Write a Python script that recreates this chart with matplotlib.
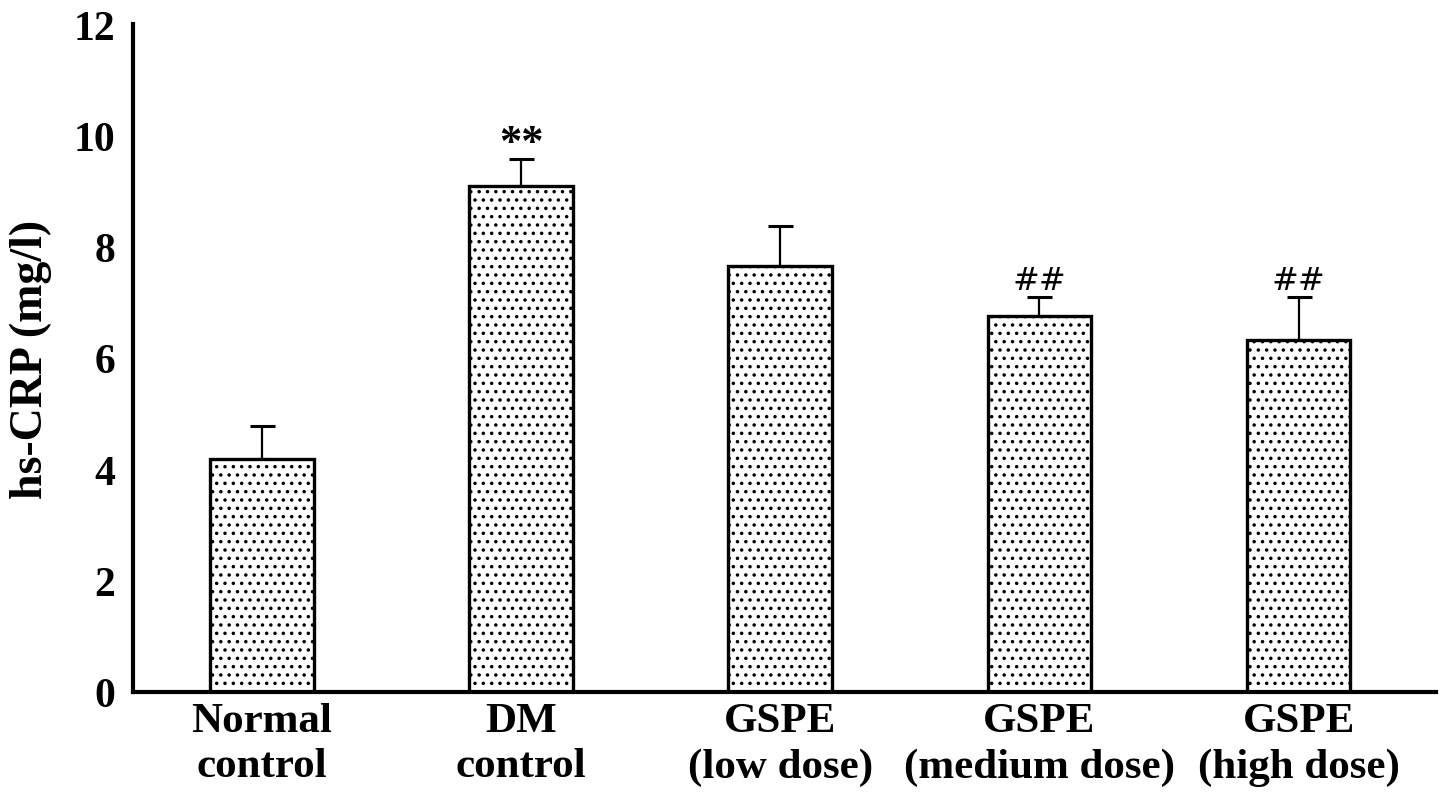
import matplotlib
matplotlib.use('Agg')
import matplotlib.pyplot as plt
import numpy as np

# values
groups = ['Normal\ncontrol', 'DM\ncontrol', 'GSPE\n(low dose)',
          'GSPE\n(medium dose)', 'GSPE\n(high dose)']
means = [4.19, 9.09, 7.65, 6.75, 6.32]
errs = [0.59, 0.48, 0.72, 0.35, 0.78]
marks = ['', '**', '', '##', '##']

plt.rcParams['font.family'] = ['Liberation Serif', 'DejaVu Serif']
plt.rcParams['font.weight'] = 'bold'
plt.rcParams['hatch.linewidth'] = 1.3

fig = plt.figure(figsize=(14.41, 8.04), dpi=100)
ax = fig.add_axes([133 / 1441, 111 / 804, 1303 / 1441, 668 / 804])

x = np.arange(len(groups))
ax.errorbar(x, means, yerr=[np.zeros(len(errs)), errs], fmt='none',
            ecolor='black', elinewidth=1.6, capsize=9, capthick=2.2, zorder=1)
ax.bar(x, means, width=0.40, color='white', edgecolor='black',
       hatch='..', linewidth=2.4, zorder=2)

for xi, m, e, s in zip(x, means, errs, marks):
    if s == '**':
        ax.text(xi, m + e - 0.06, s, ha='center', va='bottom',
                fontsize=32, fontweight='bold')
    elif s:
        ax.text(xi, m + e + 0.02, s, ha='center', va='bottom',
                fontsize=23, fontweight='normal', family=['DejaVu Sans'])

ax.set_xlim(-0.497, 4.53)
ax.set_ylim(0, 12)
ax.set_yticks(range(0, 13, 2))
ax.set_xticks(x)
ax.set_xticklabels(groups, fontsize=31, fontweight='bold', linespacing=1.25)
ax.tick_params(axis='y', length=0, pad=13, labelsize=30)
ax.tick_params(axis='x', length=0, pad=7)
for lab in ax.get_yticklabels():
    lab.set_fontweight('bold')
ax.set_ylabel('hs-CRP (mg/l)', fontsize=33, fontweight='bold')
ax.yaxis.set_label_coords(-0.062, 0.5)

for side in ['top', 'right']:
    ax.spines[side].set_visible(False)
for side in ['left', 'bottom']:
    ax.spines[side].set_linewidth(3.0)

fig.savefig('out.png', dpi=100)
